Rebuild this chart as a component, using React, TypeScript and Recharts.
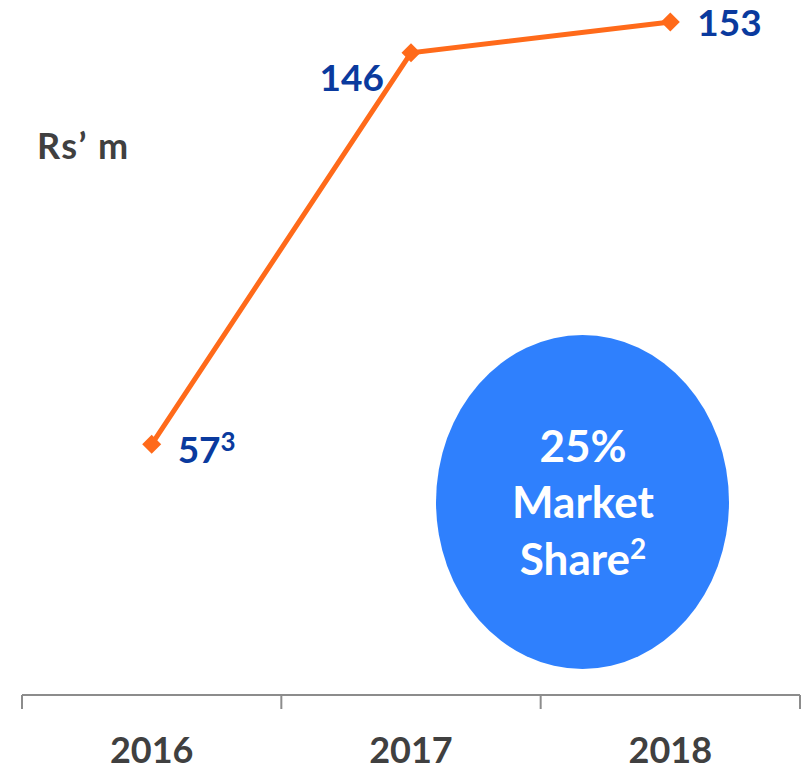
import React from 'react';
import { LineChart, Line, XAxis, YAxis, LabelList } from 'recharts';

const years = ['2016', '2017', '2018'];
const revenue = [57, 146, 153];
const footnotes = ['3', '', ''];

const data = years.map((year, i) => ({ year, revenue: revenue[i] }));

const ORANGE = '#FF6A1A';
const NAVY = '#0A3A9E';
const GREY = '#404040';
const AXIS = '#8c8c8c';
const FONT = 'Lato, "Open Sans", sans-serif';

const Diamond = (props: any) => {
  const { cx, cy } = props;
  if (cx == null || cy == null) return null;
  const r = 9.5;
  return (
    <polygon
      points={`${cx},${cy - r} ${cx + r},${cy} ${cx},${cy + r} ${cx - r},${cy}`}
      fill={ORANGE}
    />
  );
};

// year label plus tick marks on the category boundaries
const YearTick = (props: any) => {
  const { x, y, payload, index, visibleTicksCount } = props;
  const half = payload.offset || 0;
  const last = index === visibleTicksCount - 1;
  return (
    <g>
      <line x1={x - half} x2={x - half} y1={y} y2={y + 14} stroke={AXIS} strokeWidth={2} />
      {last ? <line x1={x + half} x2={x + half} y1={y} y2={y + 14} stroke={AXIS} strokeWidth={2} /> : null}
      <text x={x} y={y + 68} textAnchor="middle" fill={GREY} fontFamily={FONT} fontWeight={700} fontSize={36}>
        {payload.value}
      </text>
    </g>
  );
};

// label placement differs per point, like the original
const ValueLabel = (props: any) => {
  const { x, y, value, index } = props;
  const note = footnotes[index];
  let tx = x + 26;
  let ty = y + 19;
  let anchor: 'start' | 'end' = 'start';
  if (index === 1) {
    tx = x - 27;
    ty = y + 38;
    anchor = 'end';
  } else if (index === 2) {
    tx = x + 27;
    ty = y + 14;
  }
  return (
    <text x={tx} y={ty} textAnchor={anchor} fill={NAVY} fontFamily={FONT} fontWeight={700} fontSize={37}>
      {value}
      {note ? (
        <tspan fontSize={26} dy={-12}>
          {note}
        </tspan>
      ) : null}
    </text>
  );
};

export default function App() {
  return (
    <div style={{ position: 'absolute', left: 0, top: 0, width: 809, height: 771, background: '#fff' }}>
      <LineChart width={809} height={771} data={data} margin={{ top: 22, right: 9, left: 22, bottom: 0 }}>
        <XAxis
          dataKey="year"
          scale="band"
          height={76}
          stroke={AXIS}
          strokeWidth={2}
          tickLine={false}
          tickSize={0}
          tickMargin={0}
          interval={0}
          tick={<YearTick />}
        />
        <YAxis hide domain={[0, 153]} />
        <Line
          dataKey="revenue"
          stroke={ORANGE}
          strokeWidth={5}
          dot={<Diamond />}
          activeDot={false}
          isAnimationActive={false}
        >
          <LabelList dataKey="revenue" content={<ValueLabel />} />
        </Line>
      </LineChart>
      <svg width={809} height={771} style={{ position: 'absolute', left: 0, top: 0, pointerEvents: 'none' }}>
        <text x={37} y={159} fill={GREY} fontFamily={FONT} fontWeight={700} fontSize={36} letterSpacing={1.5}>
          Rs’ m
        </text>
        <ellipse cx={582.5} cy={502} rx={146.5} ry={167} fill="#2F80FD" />
        <g fill="#fff" fontFamily={FONT} fontWeight={700} fontSize={44} textAnchor="middle">
          <text x={583} y={462}>25%</text>
          <text x={583} y={518}>Market</text>
          <text x={583} y={575}>
            Share<tspan fontSize={28} dy={-16}>2</tspan>
          </text>
        </g>
      </svg>
    </div>
  );
}
